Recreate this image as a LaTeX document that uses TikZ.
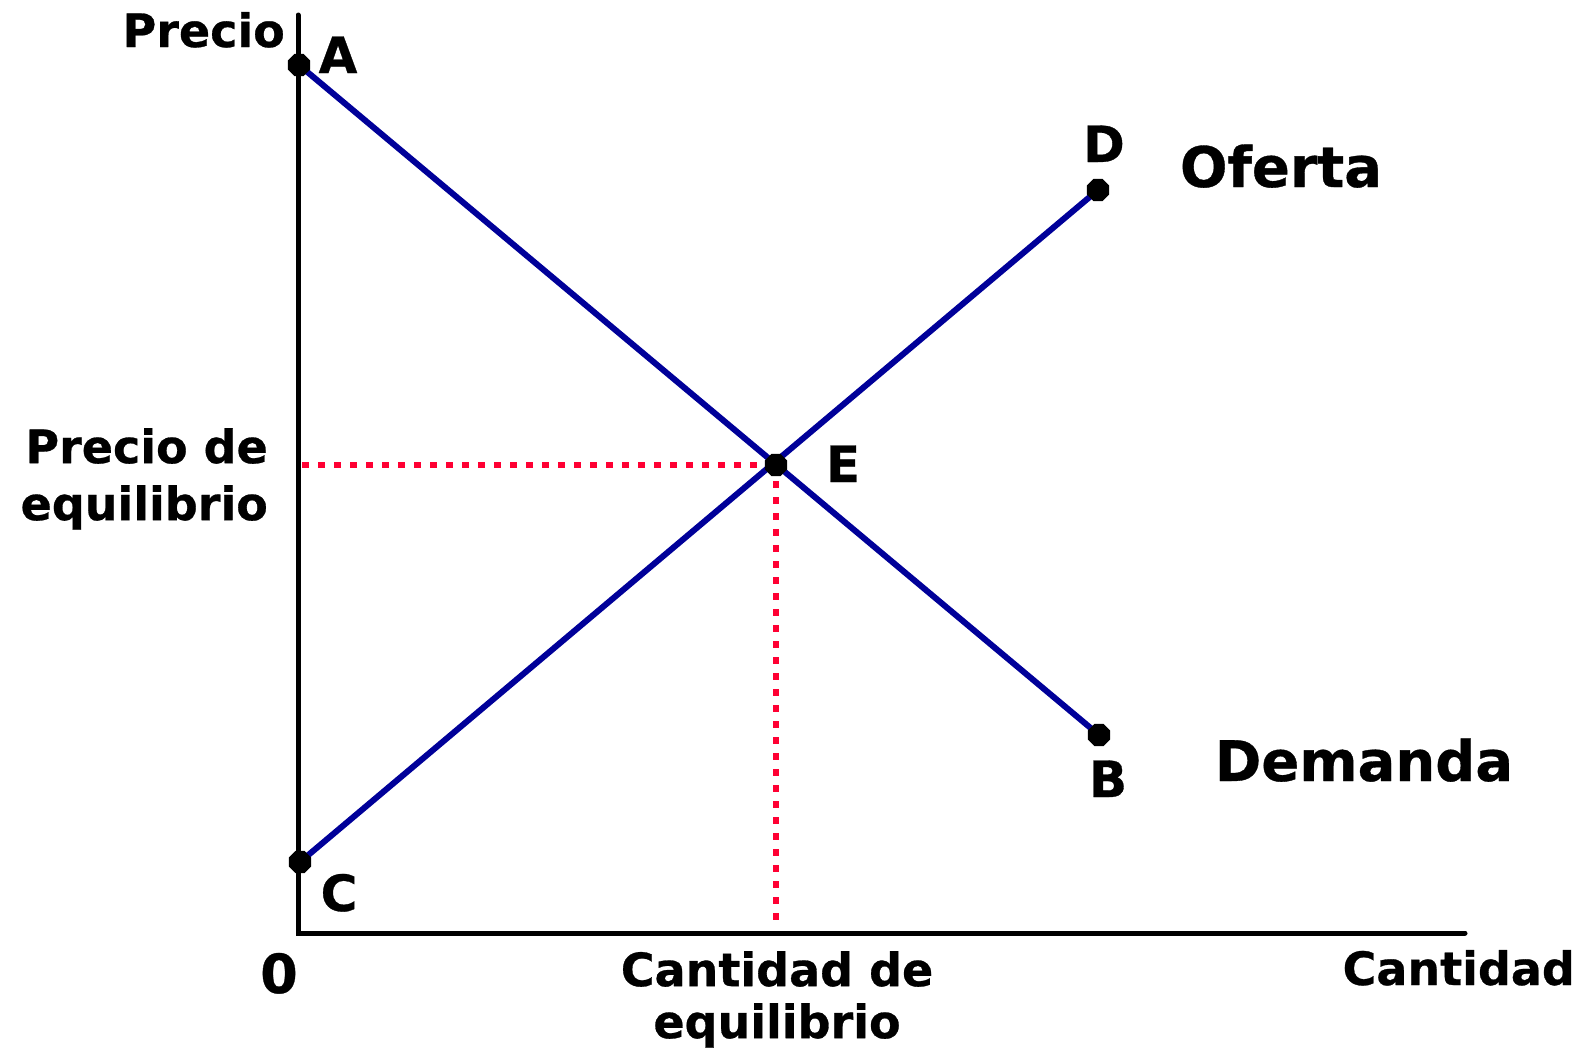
\documentclass[tikz,border=0pt]{standalone}
\usepackage{fontspec}
\setmainfont{DejaVu Sans}[BoldFeatures={FakeBold=0.6}]
\usetikzlibrary{shapes.geometric}
\definecolor{curveblue}{HTML}{000099}
\definecolor{dotred}{HTML}{FF0033}
\begin{document}
\begin{tikzpicture}[x=1pt,y=-1pt,
  axis/.style={line width=5pt, line cap=round, line join=miter},
  curve/.style={draw=curveblue, line width=6pt},
  guide/.style={draw=dotred, line width=6pt, dash pattern=on 7pt off 9pt},
  ptmark/.style={regular polygon, regular polygon sides=8, fill=black, minimum size=24pt, inner sep=0pt},
  lbl/.style={font=\fontsize{46}{54}\selectfont\bfseries, inner sep=0pt},
  ptlbl/.style={font=\fontsize{50}{60}\selectfont\bfseries, inner sep=0pt, anchor=base},
  big/.style={font=\fontsize{56}{66}\selectfont\bfseries, inner sep=0pt, anchor=base}]
\useasboundingbox (0,0) rectangle (1583,1055);
% axes
\coordinate (ytop) at (298,15);
\coordinate (origin) at (298,933);
\coordinate (xend) at (1465,933);
\draw[axis] (ytop) -- (origin) -- (xend);
% point positions
\coordinate (a) at (299,65);
\coordinate (b) at (1099,735);
\coordinate (c) at (300,862);
\coordinate (d) at (1098,190);
\coordinate (e) at (776,465);
\coordinate (yl) at (302,465);
\coordinate (xl) at (776,929);
% guides
\draw[guide] (yl) -- (e);
\draw[guide] (e) -- (xl);
% curves
\draw[curve] (a) -- (b);
\draw[curve] (c) -- (d);
% markers
\node[ptmark] (A) at (a) {};
\node[ptmark] (B) at (b) {};
\node[ptmark] (C) at (c) {};
\node[ptmark] (D) at (d) {};
\node[ptmark] (E) at (e) {};
% labels
\node[lbl, anchor=base east] (precio) at (285,47) {Precio};
\node[ptlbl] (la) at (338,73) {A};
\node[ptlbl] (le) at (843,482) {E};
\node[ptlbl] (ld) at (1104,162) {D};
\node[ptlbl] (lb) at (1108,797) {B};
\node[ptlbl] (lc) at (339,911) {C};
\node[big] (oferta) at (1281,187) {Oferta};
\node[big] (demanda) at (1364,781) {Demanda};
\node[inner sep=0pt, anchor=base, font=\fontsize{54}{60}\selectfont\bfseries] (cero) at (279,993) {0};
\node[lbl, anchor=base east] (cantidad) at (1575,985) {Cantidad};
\node[lbl, font=\fontsize{46}{57}\selectfont\bfseries, align=right, anchor=north east] (peq) at (268,428) {Precio de\\equilibrio};
\node[lbl, font=\fontsize{46}{52}\selectfont\bfseries, align=center, anchor=north] (qeq) at (777,951) {Cantidad de\\equilibrio};
\end{tikzpicture}
\end{document}
